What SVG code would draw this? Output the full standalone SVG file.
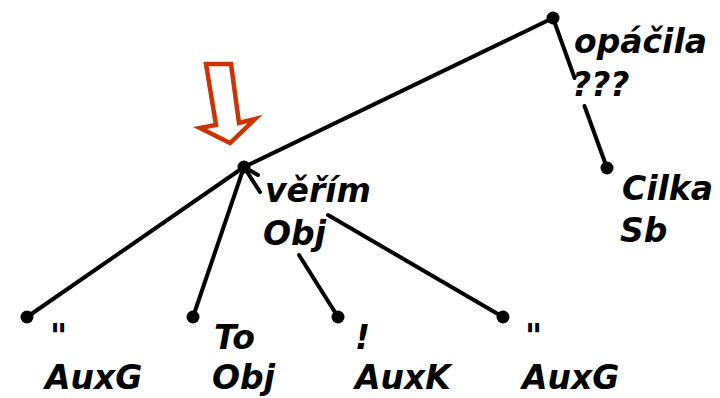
<svg xmlns="http://www.w3.org/2000/svg" width="720" height="398" viewBox="0 0 720 398">
<style>
.e{stroke:#000;stroke-width:4;fill:none;stroke-linecap:round}
.n{fill:#000}
.t{font-family:"DejaVu Sans",Verdana,sans-serif;font-weight:bold;font-style:oblique;font-size:33px;fill:#000}
</style>
<rect width="720" height="398" fill="#fff"/>
<g id="connectors">
<path class="e" d="M553 18 L244 167"/>
<path class="e" d="M553 18 L574.6 78 M584.5 106 L607 168"/>
<path class="e" d="M244 167 L27 317"/>
<path class="e" d="M244 167 L193 317"/>
<path class="e" d="M244 167 L260 192 M299 255 L338 317"/>
<path class="e" d="M244 167 L258 175 M328 215 L503 317"/>
</g>
<g id="arrow">
<polygon points="206,64 231,64 239,123 255,119 230,143 200,128 216,125" fill="#fff" stroke="#cc3300" stroke-width="4.5" stroke-linejoin="miter"/>
</g>
<g id="root"><circle class="n" cx="553" cy="18" r="6.5"/><text class="t" x="574" y="53">opáčila</text><text class="t" x="572" y="96">???</text></g>
<g id="verim"><circle class="n" cx="244" cy="167" r="6.5"/><text class="t" x="265" y="202">věřím</text><text class="t" x="263" y="245">Obj</text></g>
<g id="cilka"><circle class="n" cx="607" cy="168" r="6.5"/><text class="t" x="622" y="200">Cilka</text><text class="t" x="620" y="242">Sb</text></g>
<g id="leaf1"><circle class="n" cx="27" cy="317" r="6.5"/><text class="t" x="50" y="348">"</text><text class="t" x="45" y="389">AuxG</text></g>
<g id="leaf2"><circle class="n" cx="193" cy="317" r="6.5"/><text class="t" x="214" y="349">To</text><text class="t" x="212" y="389">Obj</text></g>
<g id="leaf3"><circle class="n" cx="338" cy="317" r="6.5"/><text class="t" x="355" y="349">!</text><text class="t" x="355" y="389">AuxK</text></g>
<g id="leaf4"><circle class="n" cx="503" cy="317" r="6.5"/><text class="t" x="525" y="348">"</text><text class="t" x="522" y="389">AuxG</text></g>
</svg>
